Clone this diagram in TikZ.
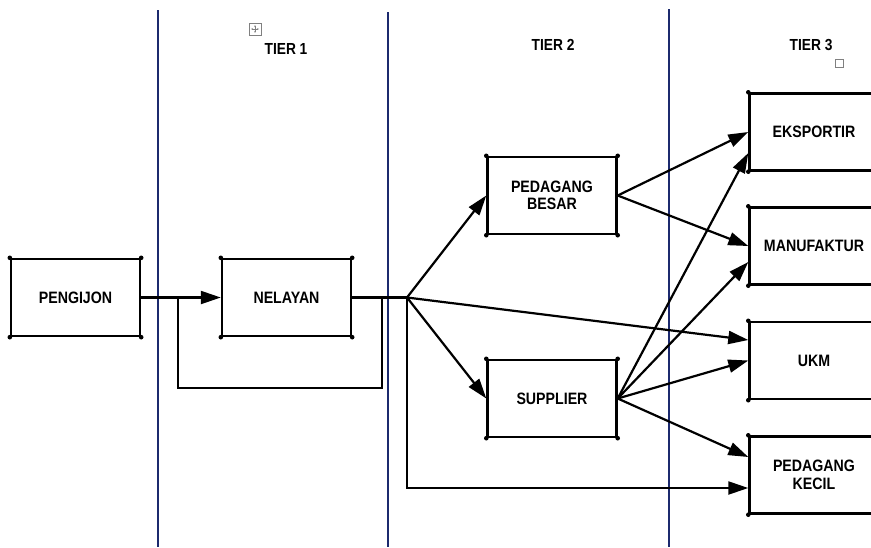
\documentclass[tikz,border=0pt]{standalone}
\usepackage{fontspec}
\setmainfont{Liberation Sans}[FakeStretch=0.86]
\usetikzlibrary{arrows.meta,calc}
\definecolor{tiernavy}{HTML}{1C2A6E}

\begin{document}
\begin{tikzpicture}[x=1pt,y=-1pt,
    actor/.style={draw, line width=2.4pt, minimum width=129pt, minimum height=77pt,
        inner sep=0pt, align=center, font=\fontsize{16.5}{17.5}\selectfont\bfseries},
    tier/.style={font=\fontsize{16}{18}\selectfont\bfseries},
    flow/.style={line width=2.2pt, -{Triangle[length=20pt,width=13pt]}},
    tierline/.style={tiernavy, line width=2pt}]
    \clip (0,0) rectangle (871,547);
    \fill[white] (0,0) rectangle (871,547);

    % Tier lines
    \draw[tierline] (158,10) -- (158,547);
    \draw[tierline] (388,12) -- (388,547);
    \draw[tierline] (669,9) -- (669,547);

    % Tier titles
    \node[tier] (tier1) at (286,49) {TIER 1};
    \node[tier] (tier2) at (553,45) {TIER 2};
    \node[tier] (tier3) at (811,45) {TIER 3};

    % Small marks
    \draw[gray, line width=0.6pt] (249,23) rectangle (261,35);
    \draw[gray, line width=0.5pt, {Stealth[length=2pt]}-{Stealth[length=2pt]}] (251,29) -- (259,29);
    \draw[gray, line width=0.5pt, {Stealth[length=2pt]}-{Stealth[length=2pt]}] (255,25) -- (255,33);
    \draw[gray, line width=0.6pt] (835,59) rectangle (843,67);

    % Actors
    \node[actor] (pengijon) at (75.5,297.5) {PENGIJON};
    \node[actor] (nelayan) at (286.5,297.5) {NELAYAN};
    \node[actor] (besar) at (552,195.5) {PEDAGANG\\BESAR};
    \node[actor] (supplier) at (552,398.5) {SUPPLIER};
    \node[actor] (eksportir) at (814,132) {EKSPORTIR};
    \node[actor] (manufaktur) at (814,246) {MANUFAKTUR};
    \node[actor] (ukm) at (814,360.5) {UKM};
    \node[actor] (kecil) at (814,475) {PEDAGANG\\KECIL};

    % Corner dots
    \foreach \n in {pengijon,nelayan,besar,supplier,eksportir,manufaktur,ukm,kecil}
        \foreach \c in {north west,north east,south west,south east}
            \fill (\n.\c) circle (2.3pt);

    % Pengijon to nelayan, with loop
    \coordinate (loopL) at (178,297.5);
    \coordinate (loopR) at (382,297.5);
    \coordinate (branch) at (407,297.5);
    \draw[flow] (pengijon.east) -- (nelayan.west);
    \draw[line width=2.2pt] (loopL) -- ++(0,90.5) -| (loopR);
    \draw[line width=2.2pt] (nelayan.east) -- (branch);

    % From branch
    \draw[flow] (branch) -- (besar.west);
    \draw[flow] (branch) -- (supplier.west);
    \draw[flow] (branch) -- ($(ukm.west)+(0,-20.5)$);
    \draw[flow] (branch) |- ($(kecil.west)+(0,13)$);

    % Pedagang besar
    \draw[flow] (besar.east) -- (eksportir.west);
    \draw[flow] (besar.east) -- (manufaktur.west);

    % Supplier
    \draw[flow] (supplier.east) -- ($(eksportir.west)+(0,21)$);
    \draw[flow] (supplier.east) -- ($(manufaktur.west)+(0,16)$);
    \draw[flow] (supplier.east) -- (ukm.west);
    \draw[flow] (supplier.east) -- ($(kecil.west)+(0,-18)$);
\end{tikzpicture}
\end{document}
